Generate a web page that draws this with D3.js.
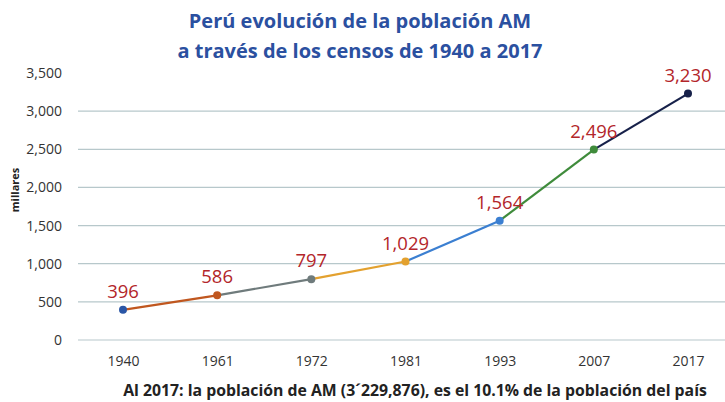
<!DOCTYPE html>
<html><head><meta charset="utf-8">
<script src="https://cdn.jsdelivr.net/npm/d3@7"></script>
<style>
body{margin:0;background:#fff;}
svg{display:block;font-family:"Open Sans",Lato,sans-serif;}
</style></head>
<body><svg id="c" width="725" height="402"></svg>
<script>
const years = ["1940","1961","1972","1981","1993","2007","2017"];
const values = [396, 586, 797, 1029, 1564, 2496, 3230];
const labels = ["396","586","797","1,029","1,564","2,496","3,230"];
const pointColors = ["#2a56a6","#c0571f","#6f7b7c","#e3a12f","#3b7fd1","#3f8b3b","#17214a"];
const yTicks = [0,500,1000,1500,2000,2500,3000,3500];
const titleLines = ["Perú evolución de la población AM","a través de los censos de 1940 a 2017"];
const footer = "Al 2017: la población de AM (3´229,876), es el 10.1% de la población del país";

const svg = d3.select("#c");
const x = d3.scalePoint().domain(years).range([123, 688]);
const y = d3.scaleLinear().domain([0,3500]).range([340, 73]);

// gridlines
svg.append("g").selectAll("line").data(yTicks.filter(t=>t<3500)).join("line")
  .attr("x1",78).attr("x2",725).attr("y1",d=>y(d)).attr("y2",d=>y(d))
  .attr("stroke","#b7c8cb").attr("stroke-width",1.2);

// y axis
const ya = svg.append("g").attr("transform","translate(62,0)")
  .call(d3.axisLeft(y).tickValues(yTicks).tickFormat(d3.format(",")).tickSize(0).tickPadding(0));
ya.select(".domain").remove();
ya.selectAll("text").attr("font-size",14).attr("fill","#333").attr("font-family","'Open Sans',sans-serif");

// x axis
const xa = svg.append("g").attr("transform","translate(0,356)")
  .call(d3.axisBottom(x).tickSize(0).tickPadding(0));
xa.select(".domain").remove();
xa.selectAll("text").attr("font-size",14).attr("fill","#333").attr("dy","0.71em").attr("font-family","'Open Sans',sans-serif");

// y title
svg.append("text").attr("transform","translate(19,190) rotate(-90)")
  .attr("text-anchor","middle").attr("font-size",11).attr("font-weight","bold").attr("fill","#222")
  .text("millares");

// segments
const segs = d3.range(1, years.length).map(i=>({a:i-1,b:i}));
svg.append("g").selectAll("line").data(segs).join("line")
  .attr("x1",d=>x(years[d.a])).attr("y1",d=>y(values[d.a]))
  .attr("x2",d=>x(years[d.b])).attr("y2",d=>y(values[d.b]))
  .attr("stroke",d=>pointColors[d.b]).attr("stroke-width",2.2);

// points
svg.append("g").selectAll("circle").data(values).join("circle")
  .attr("cx",(d,i)=>x(years[i])).attr("cy",d=>y(d)).attr("r",4)
  .attr("fill",(d,i)=>pointColors[i]);

// data labels
svg.append("g").selectAll("text").data(values).join("text")
  .attr("x",(d,i)=>x(years[i])).attr("y",d=>y(d)-12)
  .attr("text-anchor","middle").attr("font-size",18.5).attr("fill","#b3262a")
  .text((d,i)=>labels[i]);

// title
svg.append("g").selectAll("text").data(titleLines).join("text")
  .attr("x",360).attr("y",(d,i)=>28+i*30).attr("text-anchor","middle")
  .attr("font-size",20).attr("font-weight","bold").attr("fill","#2b50a0")
  .text(d=>d);

// footer
svg.append("text").attr("x",415).attr("y",396).attr("text-anchor","middle")
  .attr("font-size",15.8).attr("font-weight","bold").attr("fill","#222")
  .text(footer);
</script></body></html>
